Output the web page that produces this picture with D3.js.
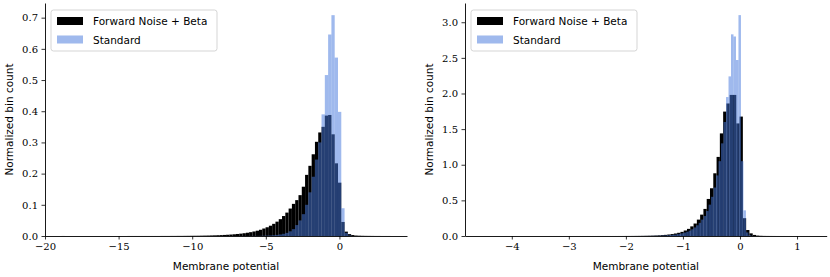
<!DOCTYPE html>
<html>
<head>
<meta charset="utf-8">
<script src="https://cdn.jsdelivr.net/npm/d3@7"></script>
<style>
body { margin: 0; background: #fff; }
</style>
</head>
<body>
<svg id="plotCanvas" width="830" height="277"></svg>
<script>
// series names
var seriesNames = ["Forward Noise + Beta", "Standard"];

// left panel: shared bins (start, width), normalized heights
var leftBinStart = -18.88;
var leftBinWidth = 0.2236;
var leftForward = [
  0.0001,0,0,0,0,0,0,0,0,0,
  0,0,0,0,0,0,0,0,0,0,
  0.0001,0.0001,0.0001,0.0001,0.0001,0.0001,0.0001,0.0001,0.0001,0.0001,
  0.0002,0.0002,0.0002,0.0003,0.0003,0.0004,0.0004,0.0005,0.0006,0.0007,
  0.0008,0.0009,0.0011,0.0013,0.0015,0.0018,0.0021,0.0025,0.0029,0.0034,
  0.0040,0.0047,0.0055,0.0065,0.0076,0.0089,0.0105,0.0123,0.0145,0.0170,
  0.020,0.024,0.028,0.033,0.039,0.046,0.054,0.064,0.075,0.088,
  0.103,0.115,0.131,0.158,0.196,0.225,0.262,0.302,0.332,0.350,
  0.386,0.388,0.326,0.233,0.171,0.045,0.014,0.006,0.003,0.0015,
  0.001,0.0007,0.0005,0.0004,0.0003,0.0002,0.0002,0.0001,0.0001,0.0001
];
var leftStandard = [
  0,0,0,0,0,0,0,0,0,0,
  0,0,0,0,0,0,0,0,0,0,
  0,0,0,0,0,0,0,0,0,0,
  0,0,0,0,0,0,0,0,0,0,
  0,0,0,0,0,0,0,0,0,0,
  0.0001,0.0001,0.0001,0.0001,0.0001,0.0001,0.0001,0.0002,0.0003,0.0004,
  0.0006,0.0009,0.0013,0.0018,0.0025,0.0035,0.005,0.007,0.010,0.015,
  0.022,0.035,0.050,0.070,0.100,0.140,0.190,0.245,0.300,0.390,
  0.516,0.646,0.708,0.572,0.398,0.089,0.010,0.002,0,0,
  0,0,0,0,0,0,0,0,0,0
];
var leftXTicks = [-20, -15, -10, -5, 0];
var leftYTicks = [0, 0.1, 0.2, 0.3, 0.4, 0.5, 0.6, 0.7];

// right panel: each series has its own bins
var rightForwardStart = -4.50;
var rightForwardWidth = 0.0576;
var rightForward = [
  0.0001,0,0,0,0,0,0,0,0,0,
  0,0,0,0,0,0,0,0,0,0,
  0.0001,0.0001,0.0001,0.0001,0.0001,0.0001,0.0001,0.0001,0.0001,0.0001,
  0.0001,0.0001,0.0001,0.0001,0.0001,0.0002,0.0002,0.0002,0.0002,0.0002,
  0.0003,0.0004,0.0005,0.0007,0.0009,0.0012,0.0016,0.0021,0.0027,0.0035,
  0.0045,0.0058,0.0075,0.0097,0.0125,0.016,0.021,0.027,0.035,0.045,
  0.058,0.077,0.10,0.135,0.175,0.23,0.30,0.38,0.52,0.67,
  0.88,1.11,1.44,1.746,1.86,1.98,1.98,1.58,1.676,0.25,
  0.084,0.037,0.015,0.006,0.003,0.0015,0.001,0.0007,0.0005,0.0003,
  0.0002,0.0002,0.0001,0.0001,0.0001,0.0001,0.0001,0.0001,0.0001,0.0001
];
var rightStandardStart = -4.125;
var rightStandardWidth = 0.0436;
var rightStandard = [
  0.0001,0,0,0,0,0,0,0,0,0,
  0,0,0,0,0,0,0,0,0,0,
  0,0,0,0,0,0,0,0,0,0,
  0.0001,0.0001,0.0001,0.0001,0.0001,0.0001,0.0001,0.0001,0.0001,0.0001,
  0.0001,0.0001,0.0001,0.0001,0.0001,0.0001,0.0001,0.0001,0.0002,0.0002,
  0.0002,0.0002,0.0003,0.0004,0.0005,0.0007,0.0009,0.0012,0.0015,0.002,
  0.0026,0.0033,0.0043,0.0055,0.007,0.009,0.012,0.015,0.019,0.024,
  0.030,0.038,0.048,0.060,0.075,0.095,0.12,0.15,0.185,0.23,
  0.28,0.35,0.44,0.55,0.68,0.85,1.05,1.30,1.60,1.95,
  2.24,2.83,2.80,2.47,3.10,1.05,0.36,0.05,0.01,0.002
];
var rightXTicks = [-4, -3, -2, -1, 0, 1];
var rightYTicks = [0, 0.5, 1.0, 1.5, 2.0, 2.5, 3.0];

var xLabel = "Membrane potential";
var yLabel = "Normalized bin count";

var forwardColor = "#000000";
var standardColor = "rgb(70,120,220)";
var standardAlpha = 0.52;

var plotTop = 3;
var plotBottom = 236;

function minusFormat(d, decimals)
{
   var s = decimals > 0 ? d.toFixed(decimals) : String(d);
   return s.replace("-", "\u2212");
}

function toBins(values, start, width)
{
   //turn heights into bin objects
   return values.map(function(v, i) {
      return {x0: start + i*width, x1: start + (i+1)*width, h: v};
   }).filter(function(b) { return b.h > 0; });
}

function drawPanel(cfg)
{
   var canvas = d3.select("#plotCanvas");
   var g = canvas.append("g");

   var x = d3.scaleLinear().domain(cfg.xDomain).range([cfg.left, cfg.right]);
   var y = d3.scaleLinear().domain(cfg.yDomain).range([plotBottom, plotTop]);

   //forward noise bars first, standard on top with alpha
   g.append("g").selectAll("rect")
      .data(toBins(cfg.forward, cfg.fStart, cfg.fWidth))
      .enter().append("rect")
      .attr("x", function(d) { return x(d.x0); })
      .attr("width", function(d) { return x(d.x1) - x(d.x0); })
      .attr("y", function(d) { return y(d.h); })
      .attr("height", function(d) { return y(0) - y(d.h); })
      .attr("fill", forwardColor);

   g.append("g").selectAll("rect")
      .data(toBins(cfg.standard, cfg.sStart, cfg.sWidth))
      .enter().append("rect")
      .attr("x", function(d) { return x(d.x0); })
      .attr("width", function(d) { return x(d.x1) - x(d.x0); })
      .attr("y", function(d) { return y(d.h); })
      .attr("height", function(d) { return y(0) - y(d.h); })
      .attr("fill", standardColor)
      .attr("fill-opacity", standardAlpha);

   //axes
   var xAxis = d3.axisBottom(x).tickValues(cfg.xTicks)
      .tickSize(3.5).tickPadding(3.5).tickSizeOuter(0)
      .tickFormat(function(d) { return minusFormat(d, 0); });
   var yAxis = d3.axisLeft(y).tickValues(cfg.yTicks)
      .tickSize(3.5).tickPadding(3.5).tickSizeOuter(0)
      .tickFormat(function(d) { return minusFormat(d, 1); });

   var gx = g.append("g").attr("transform", "translate(0," + plotBottom + ")").call(xAxis);
   var gy = g.append("g").attr("transform", "translate(" + cfg.left + ",0)").call(yAxis);

   [gx, gy].forEach(function(ax) {
      ax.select(".domain").attr("stroke", "#000").attr("stroke-width", 0.9);
      ax.selectAll(".tick line").attr("stroke", "#000").attr("stroke-width", 0.8);
      ax.selectAll(".tick text")
         .attr("fill", "#000")
         .attr("font-family", "'DejaVu Serif', serif")
         .attr("font-size", "10px");
   });

   //axis labels
   g.append("text")
      .attr("x", (cfg.left + cfg.right)/2)
      .attr("y", 270)
      .attr("text-anchor", "middle")
      .attr("font-family", "'DejaVu Sans', sans-serif")
      .attr("font-size", "10.5px")
      .attr("fill", "#000")
      .text(xLabel);

   g.append("text")
      .attr("transform", "translate(" + cfg.yLabelX + "," + (plotTop + plotBottom)/2 + ") rotate(-90)")
      .attr("text-anchor", "middle")
      .attr("font-family", "'DejaVu Sans', sans-serif")
      .attr("font-size", "10.5px")
      .attr("fill", "#000")
      .text(yLabel);

   //legend
   var lx = cfg.left + 6;
   var legend = g.append("g").attr("transform", "translate(" + lx + ",10)");
   legend.append("rect")
      .attr("x", 0).attr("y", 0)
      .attr("width", 166).attr("height", 41)
      .attr("rx", 2.5).attr("ry", 2.5)
      .attr("fill", "#fff").attr("fill-opacity", 0.8)
      .attr("stroke", "#d0d0d0").attr("stroke-width", 0.9);

   var rows = [
      {name: seriesNames[0], color: forwardColor, alpha: 1},
      {name: seriesNames[1], color: standardColor, alpha: standardAlpha}
   ];
   rows.forEach(function(r, i) {
      legend.append("rect")
         .attr("x", 6).attr("y", 7 + i*18.5)
         .attr("width", 26).attr("height", 8)
         .attr("fill", r.color).attr("fill-opacity", r.alpha);
      legend.append("text")
         .attr("x", 42).attr("y", 15 + i*18.5)
         .attr("font-family", "'DejaVu Sans', sans-serif")
         .attr("font-size", "10.5px")
         .attr("fill", "#000")
         .text(r.name);
   });
}

drawPanel({
   left: 45, right: 407, xDomain: [-20, 4.59], yDomain: [0, 0.747],
   forward: leftForward, fStart: leftBinStart, fWidth: leftBinWidth,
   standard: leftStandard, sStart: leftBinStart, sWidth: leftBinWidth,
   xTicks: leftXTicks, yTicks: leftYTicks, yLabelX: 13
});

drawPanel({
   left: 465, right: 826.7, xDomain: [-4.82, 1.52], yDomain: [0, 3.27],
   forward: rightForward, fStart: rightForwardStart, fWidth: rightForwardWidth,
   standard: rightStandard, sStart: rightStandardStart, sWidth: rightStandardWidth,
   xTicks: rightXTicks, yTicks: rightYTicks, yLabelX: 433
});
</script>
</body>
</html>
